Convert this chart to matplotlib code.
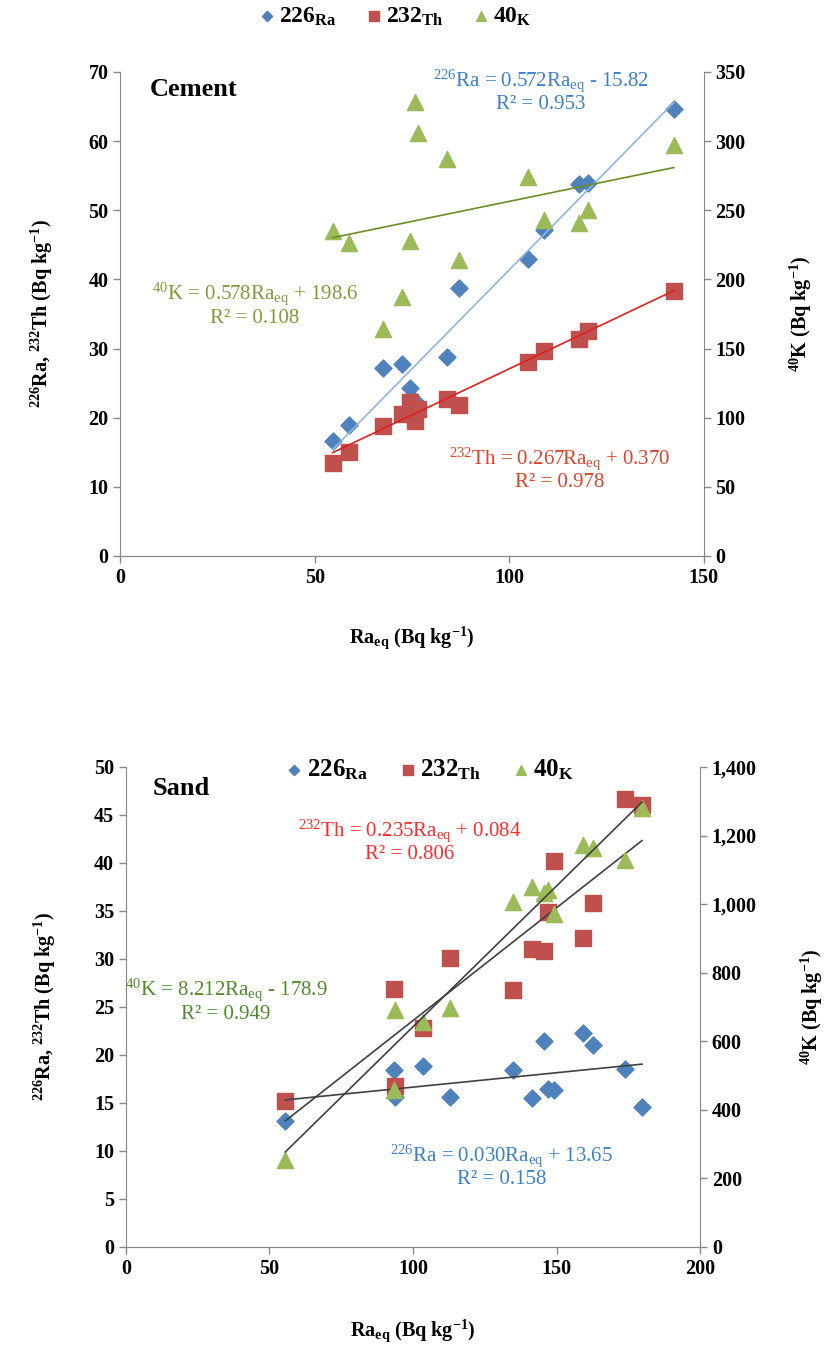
import matplotlib
matplotlib.use('Agg')
import matplotlib.pyplot as plt
import numpy as np
from matplotlib.ticker import MultipleLocator, StrMethodFormatter

plt.rcParams['font.family'] = ['Liberation Serif', 'DejaVu Serif']
plt.rcParams['mathtext.fontset'] = 'custom'
plt.rcParams['mathtext.rm'] = 'Liberation Serif'
plt.rcParams['mathtext.it'] = 'Liberation Serif:italic'
plt.rcParams['mathtext.bf'] = 'Liberation Serif:bold'
plt.rcParams['mathtext.default'] = 'regular'

# Cement samples
cement_raeq = [54.6, 58.7, 67.4, 72.3, 74.4, 75.8, 76.6, 84.0, 87.1, 104.9, 108.9, 117.9, 120.3, 142.3]
cement_ra = [16.6, 18.9, 27.2, 27.7, 24.3, 22.4, 21.9, 28.7, 38.7, 42.9, 47.2, 53.8, 54.0, 64.6]
cement_th = [13.5, 15.0, 18.8, 20.5, 22.2, 19.5, 21.2, 22.7, 21.8, 28.0, 29.7, 31.4, 32.5, 38.3]
cement_k = [235, 226, 164, 187, 228, 328, 306, 287, 214, 274, 243, 241, 250, 297]
# slope / intercept for Ra, Th, K
cement_slope = [0.572, 0.267, 0.578]
cement_icpt = [-15.82, 0.370, 198.6]
cement_r2 = ['0.953', '0.978', '0.108']

# Sand samples
sand_raeq = [55.5, 93.5, 93.8, 103.6, 113.0, 134.9, 141.4, 145.6, 147.2, 149.2, 159.3, 162.6, 173.7, 179.8]
sand_ra = [13.1, 18.4, 15.6, 18.9, 15.6, 18.4, 15.5, 21.5, 16.5, 16.3, 22.3, 21.0, 18.5, 14.6]
sand_th = [15.2, 26.9, 16.8, 22.8, 30.1, 26.8, 31.0, 30.8, 34.9, 40.2, 32.2, 35.8, 46.7, 46.0]
sand_k = [255, 459, 691, 657, 696, 1007, 1051, 1031, 1041, 971, 1172, 1163, 1129, 1280]
sand_slope = [0.030, 0.235, 8.212]
sand_icpt = [13.65, 0.084, -178.9]
sand_r2 = ['0.158', '0.806', '0.949']

C_RA = '#4F81BD'
C_TH = '#C0504D'
C_K = '#9BBB59'
SPINE = '#888888'
FS_TICK = 14.5
FS_EQ = 15

fig = plt.figure(figsize=(8.25, 13.52), dpi=100)


def style_axes(ax, ax2):
    for a in (ax, ax2):
        a.spines['top'].set_visible(False)
        for s in ('left', 'right', 'bottom'):
            a.spines[s].set_color(SPINE)
        a.tick_params(colors=SPINE, labelcolor='black', labelsize=FS_TICK, length=5, width=1)
        for lab in a.get_xticklabels() + a.get_yticklabels():
            lab.set_fontweight('bold')
    ax2.spines['left'].set_visible(False)
    ax.spines['right'].set_visible(False)


def draw_panel(ax, raeq, ra, th, k, slope, icpt, line_colors):
    ax2 = ax.twinx()
    ax.scatter(raeq, ra, marker='D', s=75, color=C_RA, label=r'$\mathbf{226}_{\mathbf{Ra}}$', zorder=3)
    ax.scatter(raeq, th, marker='s', s=140, color=C_TH, label=r'$\mathbf{232}_{\mathbf{Th}}$', zorder=4)
    ax2.scatter(raeq, k, marker='^', s=135, color=C_K, label=r'$\mathbf{40}_{\mathbf{K}}$', zorder=3)
    xs = np.array([min(raeq), max(raeq)])
    ax.plot(xs, slope[0] * xs + icpt[0], color=line_colors[0], lw=1.2, zorder=5)
    ax.plot(xs, slope[1] * xs + icpt[1], color=line_colors[1], lw=1.2, zorder=5)
    ax2.plot(xs, slope[2] * xs + icpt[2], color=line_colors[2], lw=1.2, zorder=5)
    return ax2


def eq_text(ax, x, y, iso, name, slope, icpt, r2, color):
    sign = '+' if icpt >= 0 else '-'
    if abs(icpt) < 1:
        ic = '%.3f' % abs(icpt)
    elif abs(icpt) < 100:
        ic = '%.2f' % abs(icpt)
    else:
        ic = '%.1f' % abs(icpt)
    s = r'$^{%s}$%s = %.3fRa$_{eq}$ %s %s' % (iso, name, slope, sign, ic) + '\nR² = ' + r2
    ax.text(x, y, s, color=color, fontsize=FS_EQ, ha='center', va='center',
            multialignment='center', linespacing=1.1, zorder=6)


def add_legend(ax, ax2, anchor, size):
    h1, l1 = ax.get_legend_handles_labels()
    h2, l2 = ax2.get_legend_handles_labels()
    leg = ax.legend(h1 + h2, l1 + l2, loc='center', bbox_to_anchor=anchor, ncol=3, frameon=False,
                    fontsize=size, markerscale=0.6, handlelength=0.8, handletextpad=0.1,
                    columnspacing=1.2)
    leg.set_zorder(10)


# ---- Cement ----
ax = fig.add_axes([0.146, 0.5888, 0.707, 0.358])
ax2 = draw_panel(ax, cement_raeq, cement_ra, cement_th, cement_k, cement_slope, cement_icpt,
                 ['#8DB4E2', '#E0201E', '#6B8E23'])
ax.set_xlim(0, 150)
ax.set_ylim(0, 70)
ax2.set_ylim(0, 350)
ax.xaxis.set_major_locator(MultipleLocator(50))
ax.yaxis.set_major_locator(MultipleLocator(10))
ax2.yaxis.set_major_locator(MultipleLocator(50))
style_axes(ax, ax2)

ax.text(7.6, 67.4, 'Cement', fontsize=19, fontweight='bold', va='center')
eq_text(ax, 108.1, 67.3, '226', 'Ra', cement_slope[0], cement_icpt[0], cement_r2[0], '#3A7FCB')
eq_text(ax, 34.6, 36.4, '40', 'K', cement_slope[2], cement_icpt[2], cement_r2[2], '#7F9A3A')
eq_text(ax, 113.0, 12.6, '232', 'Th', cement_slope[1], cement_icpt[1], cement_r2[1], '#E0402A')

ax.set_xlabel(r'Ra$_{eq}$ (Bq kg$^{-1}$)', fontsize=14.5, fontweight='bold', labelpad=26)
ax.set_ylabel(r'$^{226}$Ra, $^{232}$Th (Bq kg$^{-1}$)', fontsize=14.5, fontweight='bold', labelpad=24)
ax2.set_ylabel(r'$^{40}$K (Bq kg$^{-1}$)', fontsize=14.5, fontweight='bold', labelpad=30)
add_legend(ax, ax2, (0.47, 1.114), 17)

# ---- Sand ----
bx = fig.add_axes([0.1527, 0.0777, 0.6958, 0.355])
bx2 = draw_panel(bx, sand_raeq, sand_ra, sand_th, sand_k, sand_slope, sand_icpt,
                 ['#404040', '#404040', '#404040'])
bx.set_xlim(0, 200)
bx.set_ylim(0, 50)
bx2.set_ylim(0, 1400)
bx.xaxis.set_major_locator(MultipleLocator(50))
bx.yaxis.set_major_locator(MultipleLocator(5))
bx2.yaxis.set_major_locator(MultipleLocator(200))
bx2.yaxis.set_major_formatter(StrMethodFormatter('{x:,.0f}'))
style_axes(bx, bx2)

bx.text(9.4, 47.8, 'Sand', fontsize=19, fontweight='bold', va='center')
eq_text(bx, 99.0, 42.3, '232', 'Th', sand_slope[1], sand_icpt[1], sand_r2[1], '#FF2A2A')
eq_text(bx, 34.8, 25.7, '40', 'K', sand_slope[2], sand_icpt[2], sand_r2[2], '#4F8A2A')
eq_text(bx, 131.0, 8.5, '226', 'Ra', sand_slope[0], sand_icpt[0], sand_r2[0], '#3A7FCB')

bx.set_xlabel(r'Ra$_{eq}$ (Bq kg$^{-1}$)', fontsize=14.5, fontweight='bold', labelpad=28)
bx.set_ylabel(r'$^{226}$Ra, $^{232}$Th (Bq kg$^{-1}$)', fontsize=14.5, fontweight='bold', labelpad=26)
bx2.set_ylabel(r'$^{40}$K (Bq kg$^{-1}$)', fontsize=14.5, fontweight='bold', labelpad=30)
add_legend(bx, bx2, (0.528, 0.995), 18)

fig.savefig('out.png', dpi=100)
